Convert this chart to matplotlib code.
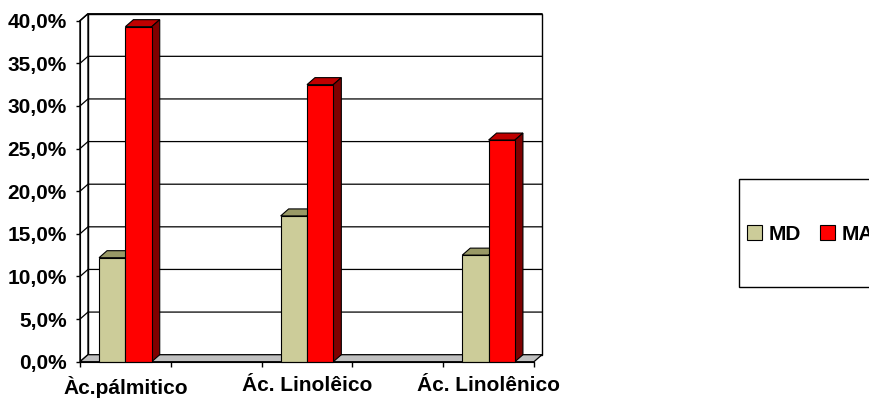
import matplotlib
matplotlib.use("Agg")
import matplotlib.pyplot as plt
from matplotlib.patches import Polygon, Rectangle
from matplotlib.ticker import FuncFormatter, FixedLocator

plt.rcParams['font.family'] = ['Liberation Sans', 'DejaVu Sans']
plt.rcParams['font.weight'] = 'bold'

# Fatty-acid composition (%)
categories = ["Àc.pálmitico", "Ác. Linolêico", "Ác. Linolênico"]
series_names = ["MD", "MA"]
md_values = [12.2, 17.1, 12.5]
ma_values = [39.3, 32.5, 26.0]
y_ticks = [0, 5, 10, 15, 20, 25, 30, 35, 40]

# face colours: front, top, side
md_colors = ("#CCCC99", "#999966", "#666633")
ma_colors = ("#FF0000", "#C00000", "#800000")

W, H, DPI = 870, 400, 100
FS = 15
fig = plt.figure(figsize=(W / DPI, H / DPI), dpi=DPI)
fig.patch.set_facecolor("white")

x0_px, x1_px, y0_px, y1_px = 80, 534, 361.7, 20.7
ax = fig.add_axes([x0_px / W, (H - y0_px) / H, (x1_px - x0_px) / W, (y0_px - y1_px) / H])
ax.set_facecolor("none")

n_slots = 2 * len(categories) - 1
ax.set_xlim(-0.5, n_slots - 0.5)
ax.set_ylim(0, 40)

# depth of the pseudo-3D box, in data units
depth_x_px, depth_y_px = 8, 7
p0 = ax.transData.transform((0, 0))
p1 = ax.transData.transform((1, 1))
ddx = depth_x_px / (p1[0] - p0[0])
ddy = depth_y_px / (p1[1] - p0[1])

xmin, xmax = -0.5, n_slots - 0.5
ymax = y_ticks[-1]

# back wall
ax.add_patch(Rectangle((xmin + ddx, ddy), xmax - xmin, ymax, facecolor="white",
                       edgecolor="black", lw=1.0, clip_on=False, zorder=1))
# left wall outline
ax.add_patch(Polygon([(xmin, 0), (xmin, ymax), (xmin + ddx, ymax + ddy), (xmin + ddx, ddy)],
                     closed=True, facecolor="white", edgecolor="black", lw=1.0,
                     clip_on=False, zorder=1))
# gridlines on both walls
for t in y_ticks[1:]:
    ax.plot([xmin, xmin + ddx, xmax + ddx], [t, t + ddy, t + ddy], color="black",
            lw=0.9, clip_on=False, zorder=2)
# floor
ax.add_patch(Polygon([(xmin, 0), (xmax, 0), (xmax + ddx, ddy), (xmin + ddx, ddy)],
                     closed=True, facecolor="#C0C0C0", edgecolor="black", lw=0.9,
                     clip_on=False, zorder=3))

bar_w = 0.29
positions = [2 * i for i in range(len(categories))]


def draw_bar(xl, v, colors, z):
    front, top, side = colors
    xr = xl + bar_w
    ax.bar(xl, v, width=bar_w, align="edge", color=front, edgecolor="black",
           lw=0.8, zorder=z + 0.2, clip_on=False)
    ax.add_patch(Polygon([(xl, v), (xr, v), (xr + ddx, v + ddy), (xl + ddx, v + ddy)],
                         closed=True, facecolor=top, edgecolor="black", lw=0.8,
                         zorder=z, clip_on=False))
    ax.add_patch(Polygon([(xr, 0), (xr, v), (xr + ddx, v + ddy), (xr + ddx, ddy)],
                         closed=True, facecolor=side, edgecolor="black", lw=0.8,
                         zorder=z, clip_on=False))


for i, pos in enumerate(positions):
    draw_bar(pos - bar_w, md_values[i], md_colors, 4)
    draw_bar(pos, ma_values[i], ma_colors, 5)

# axes styling
for s in ("top", "right"):
    ax.spines[s].set_visible(False)
ax.spines["left"].set_zorder(6)
ax.spines["bottom"].set_zorder(6)
ax.set_yticks(y_ticks)
ax.yaxis.set_major_formatter(FuncFormatter(lambda v, _: f"{v:.1f}%".replace(".", ",")))
ax.tick_params(axis="y", direction="out", length=3, width=1, pad=6.5, labelsize=FS)

ax.xaxis.set_major_locator(FixedLocator([xmin + k for k in range(n_slots + 1)]))
ax.xaxis.set_major_formatter(FuncFormatter(lambda v, _: ""))
ax.set_xticks(positions, categories, minor=True)
ax.tick_params(axis="x", which="major", direction="out", length=3.6, width=1)
ax.tick_params(axis="x", which="minor", length=0, pad=10, labelsize=FS)

# legend with its own box
box_x, box_y0, box_y1 = 739, 179, 287
fig.patches.append(Rectangle((box_x / W, 1 - box_y1 / H), 0.5, (box_y1 - box_y0) / H,
                             transform=fig.transFigure, facecolor="white",
                             edgecolor="black", lw=1.0, figure=fig))
handles = [Rectangle((0, 0), 1, 1, facecolor=md_colors[0], edgecolor="black", lw=0.8),
           Rectangle((0, 0), 1, 1, facecolor=ma_colors[0], edgecolor="black", lw=0.8)]
fig.legend(handles, series_names, loc="center left", bbox_to_anchor=(747 / W, 1 - 234 / H),
           ncol=2, frameon=False, fontsize=FS, handlelength=0.7, handleheight=0.7,
           handletextpad=0.35, columnspacing=0.9, borderaxespad=0, borderpad=0)

fig.savefig("out.png", dpi=DPI)
